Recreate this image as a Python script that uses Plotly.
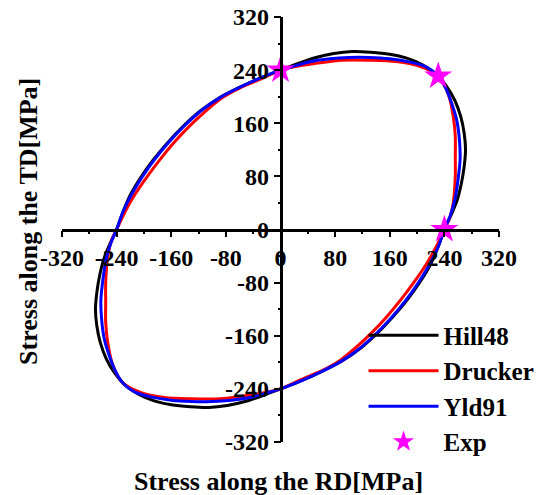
import plotly.graph_objects as go

# Yield loci in the RD-TD stress plane (MPa), listed counter-clockwise from (240, 0)
hill48_x = [240, 250, 259, 265, 269, 271, 269, 264, 255, 243, 228, 208, 185, 160, 132, 105, 78, 52, 26, 0,
            -30, -60, -90, -118, -143, -166, -187, -205, -220, -232, -240,
            -250, -259, -265, -269, -271, -269, -264, -255, -243, -228, -208, -185, -160, -132, -105, -78, -52, -26, 0,
            30, 60, 90, 118, 143, 166, 187, 205, 220, 232, 240]
hill48_y = [0, 22, 45, 70, 95, 120, 145, 170, 195, 216, 234, 248, 258, 264, 267, 268, 265, 259, 250, 240,
            228, 214, 198, 178, 155, 130, 104, 78, 52, 23, 0,
            -22, -45, -70, -95, -120, -145, -170, -195, -216, -234, -248, -258, -264, -267, -268, -265, -259, -250, -240,
            -228, -214, -198, -178, -155, -130, -104, -78, -52, -23, 0]

drucker_x = [240, 248, 253, 256, 256, 256, 253, 246, 231, 203, 170, 130, 90, 50, 20, 0,
             -30, -60, -86, -110, -133, -155, -176, -195, -213, -228, -240,
             -248, -253, -256, -256, -256, -253, -246, -231, -203, -170, -130, -90, -50, -20, 0,
             30, 60, 86, 110, 133, 155, 176, 195, 213, 228, 240]
drucker_y = [0, 18, 40, 80, 110, 140, 170, 203, 231, 246, 253, 255, 255, 250, 245, 240,
             226, 213, 198, 178, 156, 132, 106, 80, 53, 26, 0,
             -18, -40, -80, -110, -140, -170, -203, -231, -246, -253, -255, -255, -250, -245, -240,
             -226, -213, -198, -178, -156, -132, -106, -80, -53, -26, 0]

yld91_x = [240, 249, 256, 260, 263, 262, 258, 249, 241, 231, 213, 190, 160, 130, 100, 72, 45, 20, 0,
           -30, -60, -88, -115, -140, -163, -184, -202, -218, -231, -240,
           -249, -256, -260, -263, -262, -258, -249, -241, -231, -213, -190, -160, -130, -100, -72, -45, -20, 0,
           30, 60, 88, 115, 140, 163, 184, 202, 218, 231, 240]
yld91_y = [0, 22, 48, 75, 105, 135, 165, 195, 215, 231, 245, 252, 257, 259, 259, 257, 253, 246, 240,
           228, 214, 199, 180, 157, 132, 106, 80, 53, 26, 0,
           -22, -48, -75, -105, -135, -165, -195, -215, -231, -245, -252, -257, -259, -259, -257, -253, -246, -240,
           -228, -214, -199, -180, -157, -132, -106, -80, -53, -26, 0]

# Measured yield stresses
exp_x = [0, 231, 240]
exp_y = [240, 231, 0]

ticks = [-320, -240, -160, -80, 0, 80, 160, 240, 320]
tick_text = [str(t) for t in ticks]

SERIF = "Liberation Serif"

fig = go.Figure()
for name, xs, ys, col in [("Hill48", hill48_x, hill48_y, "black"),
                          ("Drucker", drucker_x, drucker_y, "red"),
                          ("Yld91", yld91_x, yld91_y, "blue")]:
    fig.add_trace(go.Scatter(x=xs, y=ys, mode="lines", name=name,
                             line=dict(color=col, width=3, shape="spline", smoothing=0.8)))
fig.add_trace(go.Scatter(x=exp_x, y=exp_y, mode="markers", name="Exp",
                         marker=dict(symbol="star", size=21, color="#FF00FF",
                                     line=dict(width=0))))
# empty trace that activates the overlay axes carrying the minor ticks
fig.add_trace(go.Scatter(x=[None], y=[None], xaxis="x2", yaxis="y2",
                         showlegend=False, hoverinfo="skip"))

major = dict(
    range=[-320, 320], tickmode="array", tickvals=ticks, ticktext=tick_text, tickangle=0,
    showgrid=False, zeroline=False, showline=True, linecolor="black", linewidth=2.5,
    ticks="outside", ticklen=6, tickwidth=2, tickcolor="black",
    tickfont=dict(family=SERIF, size=24, color="black", weight=700),
    anchor="free", position=0.5, automargin=False,
)
minor = dict(
    range=[-320, 320], tickmode="linear", tick0=0, dtick=40,
    showgrid=False, zeroline=False, showline=False, showticklabels=False,
    ticks="outside", ticklen=3, tickwidth=2, tickcolor="black",
    anchor="free", position=0.5, automargin=False,
)

fig.update_layout(
    width=548, height=495,
    margin=dict(l=62, r=49, t=17, b=53, autoexpand=False),
    paper_bgcolor="white", plot_bgcolor="white",
    xaxis=major, yaxis=major,
    xaxis2=dict(overlaying="x", **minor),
    yaxis2=dict(overlaying="y", **minor),
    showlegend=True,
    legend=dict(x=0.69, y=0.305, xanchor="left", yanchor="top",
                bgcolor="rgba(0,0,0,0)",
                font=dict(family=SERIF, size=25, color="black", weight=700),
                itemwidth=70, tracegroupgap=0),
    annotations=[
        dict(text="<b>Stress along the RD[MPa]</b>", xref="paper", yref="paper",
             x=0.496, y=-0.094, showarrow=False, xanchor="center", yanchor="middle",
             font=dict(family=SERIF, size=26, color="black")),
        dict(text="<b>Stress along the TD[MPa]</b>", xref="paper", yref="paper",
             x=-0.078, y=0.52, showarrow=False, xanchor="center", yanchor="middle",
             textangle=-90,
             font=dict(family=SERIF, size=26, color="black")),
    ],
)

fig.write_html("out.html")
